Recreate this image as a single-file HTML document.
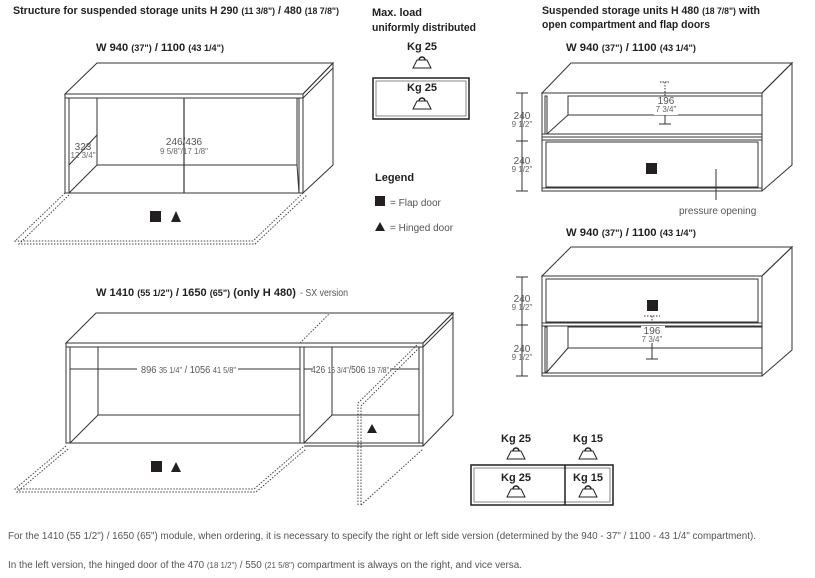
<!DOCTYPE html>
<html><head><meta charset="utf-8"><style>
html,body{margin:0;padding:0;background:#fff;}
svg{display:block;}
text{font-family:"Liberation Sans",sans-serif;fill:#231f20;}
.b{font-weight:bold;font-size:11px;}
.s{font-size:10px;fill:#555;}
.t{font-size:8px;fill:#666;}
</style></head><body>
<svg width="815" height="578" viewBox="0 0 815 578" xmlns="http://www.w3.org/2000/svg">
<defs>
<g id="wt"><path d="M-9,8 L-5,0 L5,0 L9,8 Z" fill="none" stroke="#231f20" stroke-width="1"/><path d="M-3,0 A3,3 0 0 1 3,0" fill="none" stroke="#231f20" stroke-width="1.5"/></g>
</defs>
<g fill="none" stroke="#333" stroke-width="1">
<!-- top-left unit -->
<path d="M65,94 L97,63 L333,63 L303,94 Z"/>
<rect x="65" y="94" width="238" height="4"/>
<path d="M65,98 L65,193 L303,193 L303,98"/>
<path d="M69,98 L69,193 M299,98 L299,193"/>
<path d="M303,94 L333,63 L333,165 L303,193"/>
<path d="M303,98 L333,68"/>
<rect x="97" y="98" width="200" height="67"/>
<path d="M69,193 L97,165 M299,193 L297,165"/>
<path d="M184,98 L184,193" stroke-width="1.2"/>
<path d="M180,98 L188,98 M180,193 L188,193"/>
<path d="M69,165 L97,135"/>
</g>
<g fill="none" stroke="#444" stroke-width="1" stroke-dasharray="1.5,1.5">
<path d="M65,193 L15,241 L253,241 L303,193"/>
<path d="M69,195 L19,244 L255,244 L307,195"/>
</g>
<rect x="150" y="211" width="11" height="11" fill="#231f20"/>
<path d="M171,222 L176,211 L181,222 Z" fill="#231f20"/>
<text x="184" y="145" class="s" text-anchor="middle" font-size="11">246/436</text>
<text x="184" y="154" class="t" text-anchor="middle">9 5/8"/17 1/8"</text>
<text x="83" y="150" class="s" text-anchor="middle" font-size="11">323</text>
<text x="83" y="158" class="t" text-anchor="middle">12 3/4"</text>

<text x="13" y="14" class="b" textLength="326" lengthAdjust="spacingAndGlyphs">Structure for suspended storage units H 290 <tspan font-size="9">(11 3/8")</tspan> / 480 <tspan font-size="9">(18 7/8")</tspan></text>
<text x="96" y="51" class="b" textLength="128" lengthAdjust="spacingAndGlyphs">W 940 <tspan font-size="9">(37")</tspan> / 1100 <tspan font-size="9">(43 1/4")</tspan></text>

<!-- max load -->
<text x="372" y="16" class="b" textLength="50" lengthAdjust="spacingAndGlyphs">Max. load</text>
<text x="372" y="31" class="b" textLength="104" lengthAdjust="spacingAndGlyphs">uniformly distributed</text>
<text x="422" y="50" class="b" text-anchor="middle">Kg 25</text>
<use href="#wt" x="422" y="60"/>
<rect x="373" y="78" width="96" height="41" fill="none" stroke="#231f20" stroke-width="1.5"/>
<rect x="376" y="81" width="90" height="35" fill="none" stroke="#555" stroke-width="0.7"/>
<text x="422" y="91" class="b" text-anchor="middle">Kg 25</text>
<use href="#wt" x="422" y="101"/>
<text x="375" y="181" class="b">Legend</text>
<rect x="375" y="196" width="10" height="10" fill="#231f20"/>
<text x="390" y="206" class="s" font-size="11">= Flap door</text>
<path d="M375,231 L380,222 L385,231 Z" fill="#231f20"/>
<text x="390" y="231" class="s" font-size="11">= Hinged door</text>

<!-- right top -->
<text x="542" y="14" class="b" textLength="218" lengthAdjust="spacingAndGlyphs">Suspended storage units H 480 <tspan font-size="9">(18 7/8")</tspan> with</text>
<text x="542" y="28" class="b" textLength="168" lengthAdjust="spacingAndGlyphs">open compartment and flap doors</text>
<text x="566" y="51" class="b" textLength="130" lengthAdjust="spacingAndGlyphs">W 940 <tspan font-size="9">(37")</tspan> / 1100 <tspan font-size="9">(43 1/4")</tspan></text>
<g fill="none" stroke="#333" stroke-width="1">
<path d="M542,93 L571,63 L792,63 L762,93 Z"/>
<rect x="542" y="93" width="220" height="98"/>
<rect x="545" y="96" width="2" height="38"/>
<path d="M762,93 L792,63 L792,165 L762,191"/>
<path d="M542,137 L762,137 M542,140 L762,140 M542,134 L762,134"/>
<rect x="568" y="96" width="194" height="19"/>
<path d="M547,134 L568,115"/>
<rect x="546" y="142" width="212" height="45"/>
<path d="M542,188 L762,188"/>
<path d="M522,93 L522,191 M516,93 L528,93 M516,141 L528,141 M516,191 L528,191"/>
<path d="M716,169 L716,200"/>
<path d="M665,115 L665,124 M659,124 L671,124"/>
<path d="M665,82 L665,96" stroke-dasharray="1.5,1.5"/>
<path d="M660,82 L670,82" stroke-dasharray="1.5,1"/>
</g>
<rect x="646" y="163" width="11" height="11" fill="#231f20"/>
<rect x="654" y="97" width="24" height="18" fill="#fff"/>
<text x="666" y="104" class="s" text-anchor="middle">196</text>
<text x="666" y="112" class="t" text-anchor="middle">7 3/4"</text>
<text x="522" y="119" class="s" text-anchor="middle">240</text>
<text x="522" y="127" class="t" text-anchor="middle">9 1/2"</text>
<text x="522" y="164" class="s" text-anchor="middle">240</text>
<text x="522" y="172" class="t" text-anchor="middle">9 1/2"</text>
<text x="679" y="214" class="s">pressure opening</text>

<!-- right bottom -->
<text x="566" y="236" class="b" textLength="130" lengthAdjust="spacingAndGlyphs">W 940 <tspan font-size="9">(37")</tspan> / 1100 <tspan font-size="9">(43 1/4")</tspan></text>
<g fill="none" stroke="#333" stroke-width="1">
<path d="M542,276 L571,247 L792,247 L762,276 Z"/>
<rect x="542" y="276" width="220" height="100"/>
<path d="M762,276 L792,247 L792,350 L762,376"/>
<rect x="546" y="279" width="212" height="43"/>
<path d="M542,323 L762,323 M542,326 L762,326"/>
<rect x="545" y="327" width="2" height="45"/>
<rect x="568" y="327" width="194" height="21"/>
<path d="M547,372 L568,348"/>
<path d="M542,373 L762,373"/>
<path d="M522,277 L522,376 M516,277 L528,277 M516,325 L528,325 M516,376 L528,376"/>
<path d="M652,337 L652,359 M646,359 L658,359"/>
<path d="M644,316 L660,316 M652,316 L652,325" stroke-dasharray="1.5,1.5"/>
</g>
<rect x="647" y="300" width="11" height="11" fill="#231f20"/>
<rect x="641" y="326" width="24" height="17" fill="#fff"/>
<text x="652" y="334" class="s" text-anchor="middle">196</text>
<text x="652" y="342" class="t" text-anchor="middle">7 3/4"</text>
<text x="522" y="302" class="s" text-anchor="middle">240</text>
<text x="522" y="310" class="t" text-anchor="middle">9 1/2"</text>
<text x="522" y="352" class="s" text-anchor="middle">240</text>
<text x="522" y="360" class="t" text-anchor="middle">9 1/2"</text>

<!-- wide unit -->
<text x="96" y="296" class="b" textLength="200" lengthAdjust="spacingAndGlyphs">W 1410 <tspan font-size="9">(55 1/2")</tspan> / 1650 <tspan font-size="9">(65")</tspan> (only H 480)</text>
<text x="300" y="296" class="s" textLength="48" lengthAdjust="spacingAndGlyphs">- SX version</text>
<g fill="none" stroke="#333" stroke-width="1">
<path d="M66,343 L96,313 L453,313 L423,343 Z"/>
<rect x="66" y="343" width="357" height="4"/>
<path d="M66,347 L66,443 L423,443 M70,347 L70,443"/>
<path d="M300,347 L300,443 M304,347 L304,443"/>
<path d="M419,347 L419,443 M423,347 L423,446 L304,446"/>
<path d="M423,343 L453,313 L453,415 L423,446"/>
<path d="M423,347 L453,317"/>
<rect x="98" y="347" width="202" height="68"/>
<rect x="332" y="347" width="87" height="68"/>
<path d="M70,443 L98,415 M304,443 L332,415"/>
<path d="M70,369 L137,369 M238,369 L300,369 M304,369 L312,369 M390,369 L419,369"/>
<path d="M300,364 L300,374 M304,364 L304,374"/>
</g>
<g fill="none" stroke="#444" stroke-width="1" stroke-dasharray="1.5,1.5">
<path d="M300,343 L330,313"/>
<path d="M66,446 L15,489 L254,489 L304,446"/>
<path d="M68,449 L17,492 L256,492 L306,449"/>
<path d="M358,505 L358,403 L418,344"/>
<path d="M361,505 L361,406 L420,347"/>
<path d="M361,505 L423,449"/>
</g>
<text x="141" y="373" class="s" textLength="95" lengthAdjust="spacingAndGlyphs">896 <tspan font-size="8">35 1/4"</tspan> / 1056 <tspan font-size="8">41 5/8"</tspan></text>
<text x="311" y="373" class="s" textLength="78" lengthAdjust="spacingAndGlyphs">426 <tspan font-size="8">16 3/4"</tspan>/506 <tspan font-size="8">19 7/8"</tspan></text>
<path d="M367,433 L372,424 L377,433 Z" fill="#231f20"/>
<rect x="151" y="461" width="11" height="11" fill="#231f20"/>
<path d="M171,472 L176,462 L181,472 Z" fill="#231f20"/>

<!-- load box 2 -->
<text x="516" y="442" class="b" text-anchor="middle">Kg 25</text>
<use href="#wt" x="516" y="451"/>
<text x="588" y="442" class="b" text-anchor="middle">Kg 15</text>
<use href="#wt" x="588" y="451"/>
<rect x="471" y="465" width="142" height="40" fill="none" stroke="#231f20" stroke-width="1.5"/>
<rect x="474" y="468" width="136" height="34" fill="none" stroke="#555" stroke-width="0.7"/>
<path d="M565,465 L565,505" stroke="#231f20" stroke-width="1.5"/>
<text x="516" y="481" class="b" text-anchor="middle">Kg 25</text>
<use href="#wt" x="516" y="489"/>
<text x="588" y="481" class="b" text-anchor="middle">Kg 15</text>
<use href="#wt" x="588" y="489"/>

<!-- footer -->
<text x="8" y="539" class="s" textLength="748" lengthAdjust="spacingAndGlyphs">For the 1410 (55 1/2") / 1650 (65") module, when ordering, it is necessary to specify the right or left side version (determined by the 940 - 37" / 1100 - 43 1/4" compartment).</text>
<text x="8" y="568" class="s" textLength="514" lengthAdjust="spacingAndGlyphs">In the left version, the hinged door of the  470 <tspan font-size="8">(18 1/2")</tspan> / 550 <tspan font-size="8">(21 5/8")</tspan> compartment is always on the right, and vice versa.</text>
</svg>
</body></html>
